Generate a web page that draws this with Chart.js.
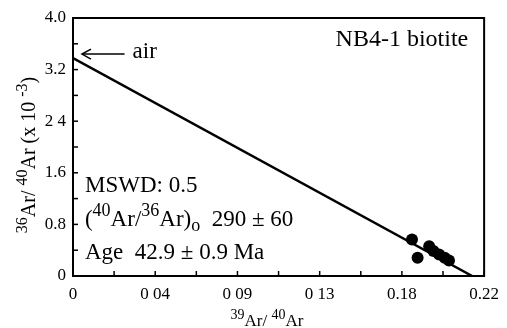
<!DOCTYPE html>
<html>
<head>
<meta charset="utf-8">
<script src="https://cdn.jsdelivr.net/npm/chart.js@4/dist/chart.umd.min.js"></script>
<style>
  html, body { margin: 0; padding: 0; background: #fff; }
  #wrap { width: 507px; height: 328px; position: relative; }
</style>
</head>
<body>
<div id="wrap"><canvas id="isochron"></canvas></div>
<script>
// 39Ar/40Ar vs 36Ar/40Ar (x 10^-3), sample NB4-1 biotite
const sampleX = [0.1814, 0.1844, 0.1906, 0.1929, 0.1959, 0.1989, 0.2012];
const sampleY = [0.567, 0.283, 0.463, 0.386, 0.335, 0.283, 0.242];
const fitX = [0, 0.2136];
const fitY = [3.38, 0];
const xTickLabels = ["0", "0 04", "0 09", "0 13", "0.18", "0.22"];
const yTickLabels = ["0", "0.8", "1.6", "2 4", "3.2", "4.0"];

const serif = "'Liberation Serif', 'Times New Roman', serif";

// draws text made of pieces: [text, "n" | "sup" | "sub"]
function richWidth(ctx, parts, size) {
  let w = 0;
  parts.forEach(([t, k]) => {
    ctx.font = (k === "n" ? size : Math.round(size * 0.8)) + "px " + serif;
    w += ctx.measureText(t).width;
  });
  return w;
}
function drawRich(ctx, parts, x, y, size, align) {
  let cx = align === "center" ? x - richWidth(ctx, parts, size) / 2
         : align === "right" ? x - richWidth(ctx, parts, size) : x;
  ctx.textAlign = "left";
  ctx.textBaseline = "alphabetic";
  parts.forEach(([t, k]) => {
    let dy = 0, s = size;
    if (k === "sup") { s = Math.round(size * 0.8); dy = -size * 0.4; }
    if (k === "sub") { s = Math.round(size * 0.8); dy = size * 0.22; }
    ctx.font = s + "px " + serif;
    ctx.fillText(t, cx, y + dy);
    cx += ctx.measureText(t).width;
  });
}

const isoPlugin = {
  id: "isoPlugin",
  afterDraw(chart) {
    const ctx = chart.ctx;
    const a = chart.chartArea;
    const xs = chart.scales.x, ys = chart.scales.y;
    ctx.save();
    ctx.strokeStyle = "#000";
    ctx.fillStyle = "#000";

    // frame
    ctx.lineWidth = 2;
    ctx.strokeRect(a.left, a.top, a.right - a.left, a.bottom - a.top);

    // inward ticks
    ctx.lineWidth = 1.5;
    xs.ticks.forEach((t) => {
      const px = xs.getPixelForValue(t.value);
      ctx.beginPath(); ctx.moveTo(px, a.bottom); ctx.lineTo(px, a.bottom - 5); ctx.stroke();
    });
    ys.ticks.forEach((t) => {
      const py = ys.getPixelForValue(t.value);
      ctx.beginPath(); ctx.moveTo(a.left, py); ctx.lineTo(a.left + 5, py); ctx.stroke();
    });

    // air arrow
    const ay = ys.getPixelForValue(3.44);
    const tail = xs.getPixelForValue(0.0276), tip = xs.getPixelForValue(0.0048);
    ctx.lineWidth = 1.5;
    ctx.beginPath(); ctx.moveTo(tail, ay); ctx.lineTo(tip, ay); ctx.stroke();
    ctx.beginPath();
    ctx.moveTo(tip + 9, ay - 5); ctx.lineTo(tip, ay); ctx.lineTo(tip + 9, ay + 5);
    ctx.stroke();

    drawRich(ctx, [["air", "n"]], xs.getPixelForValue(0.0319), ys.getPixelForValue(3.38), 23, "left");
    drawRich(ctx, [["NB4-1 biotite", "n"]], xs.getPixelForValue(0.2115), ys.getPixelForValue(3.57), 24, "right");

    const lx = xs.getPixelForValue(0.0064);
    drawRich(ctx, [["MSWD: 0.5", "n"]], lx, ys.getPixelForValue(1.31), 23, "left");
    drawRich(ctx, [["(", "n"], ["40", "sup"], ["Ar/", "n"], ["36", "sup"], ["Ar)", "n"], ["o", "sub"], ["  290 \u00b1 60", "n"]],
      lx, ys.getPixelForValue(0.78), 23, "left");
    drawRich(ctx, [["Age  42.9 \u00b1 0.9 Ma", "n"]], lx, ys.getPixelForValue(0.27), 23, "left");

    // axis titles
    drawRich(ctx, [["39", "sup"], ["Ar/ ", "n"], ["40", "sup"], ["Ar", "n"]], 267, 326, 17, "center");
    ctx.translate(35, 155);
    ctx.rotate(-Math.PI / 2);
    drawRich(ctx, [["36", "sup"], ["Ar/ ", "n"], ["40", "sup"], ["Ar (x 10 ", "n"], ["-3", "sup"], [")", "n"]], 0, 0, 20, "center");
    ctx.restore();
  }
};

new Chart(document.getElementById("isochron"), {
  type: "scatter",
  data: {
    datasets: [
      {
        data: fitX.map((x, i) => ({ x: x, y: fitY[i] })),
        showLine: true,
        borderColor: "#000",
        borderWidth: 2.5,
        pointRadius: 0,
        fill: false
      },
      {
        data: sampleX.map((x, i) => ({ x: x, y: sampleY[i] })),
        pointRadius: 6,
        pointBackgroundColor: "#000",
        pointBorderColor: "#000",
        pointBorderWidth: 0
      }
    ]
  },
  options: {
    responsive: true,
    maintainAspectRatio: false,
    animation: false,
    layout: { padding: { top: 18, right: 20, left: 0, bottom: 0 } },
    plugins: { legend: { display: false }, tooltip: { enabled: false } },
    scales: {
      x: {
        type: "linear",
        min: 0,
        max: 0.22,
        grid: { display: false, drawTicks: false },
        border: { display: false },
        afterFit: (s) => { s.height = 52; },
        ticks: {
          count: 11,
          autoSkip: false,
          maxRotation: 0,
          padding: 8,
          color: "#000",
          font: { family: serif, size: 17 },
          callback: (v, i) => (i % 2 === 0 ? xTickLabels[i / 2] : "")
        }
      },
      y: {
        type: "linear",
        min: 0,
        max: 4,
        grid: { display: false, drawTicks: false },
        border: { display: false },
        afterFit: (s) => { s.width = 73; },
        ticks: {
          count: 11,
          autoSkip: false,
          padding: 7,
          color: "#000",
          font: { family: serif, size: 17 },
          callback: (v, i) => (i % 2 === 0 ? yTickLabels[i / 2] : "")
        }
      }
    }
  },
  plugins: [isoPlugin]
});
</script>
</body>
</html>
